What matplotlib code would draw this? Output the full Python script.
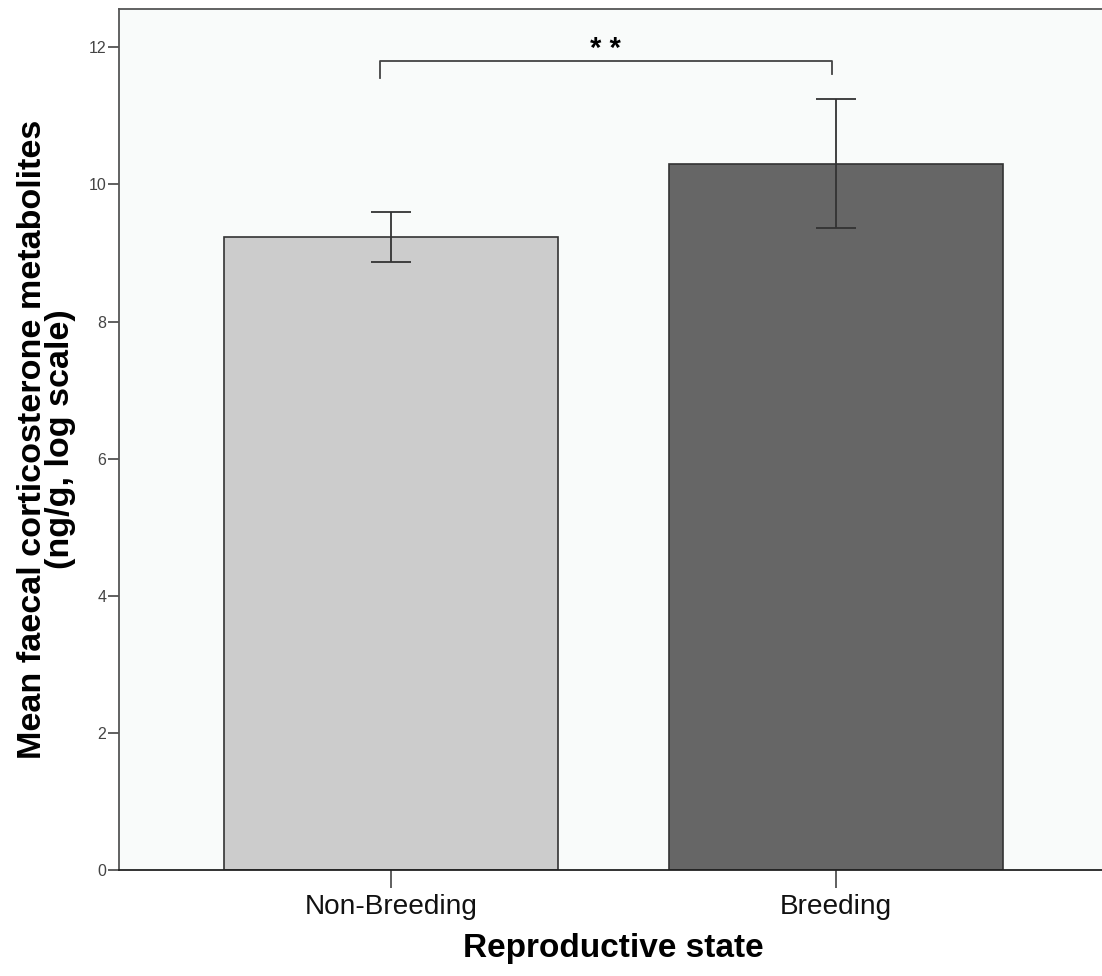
import matplotlib
matplotlib.use("Agg")
import matplotlib.pyplot as plt

categories = ["Non-Breeding", "Breeding"]
means = [9.24, 10.30]
err_low = [8.87, 9.37]
err_high = [9.60, 11.24]
bar_colors = ["#cccccc", "#666666"]
yticks = [0, 2, 4, 6, 8, 10, 12]
sig_label = "* *"

plt.rcParams['font.family'] = ['Liberation Sans', 'DejaVu Sans']

fig = plt.figure(figsize=(11.02, 9.76), dpi=100)
ax = fig.add_axes([119/1102, 1-870/976, (1108-119)/1102, (870-9)/976])
ax.set_facecolor("#f9fbfa")

x = list(range(len(categories)))
ax.bar(x, means, width=0.75, color=bar_colors, edgecolor="#333333", linewidth=1.2, zorder=2)
yerr = [[m - lo for m, lo in zip(means, err_low)], [hi - m for m, hi in zip(means, err_high)]]
ax.errorbar(x, means, yerr=yerr, fmt='none', ecolor="#333333", elinewidth=1.3,
            capsize=14.4, capthick=1.3, zorder=3)

# significance bracket
bx0, bx1 = -0.025, 0.99
ytop = 11.80
ax.plot([bx0, bx0, bx1, bx1], [11.56, ytop, ytop, 11.61], color="#444444", lw=1.3, zorder=3)
ax.text((bx0 + bx1) / 2, 11.98, sig_label, ha='center', va='center', fontsize=21,
        fontweight='bold', color='black')

ax.set_xlim(-0.611, 1.611)
ax.set_ylim(0, 12.56)
ax.set_xticks(x)
ax.set_xticklabels(categories, fontsize=20.2, color='#111111')
ax.set_yticks(yticks)
ax.set_yticklabels([str(t) for t in yticks], fontsize=11.5, color='#444444')

ax.tick_params(axis='y', direction='out', length=8, width=1.2, color='#444444', pad=1)
ax.tick_params(axis='x', direction='out', length=13, width=1.2, color='#444444', pad=4)

for s in ['left', 'top']:
    ax.spines[s].set_color('#555555')
    ax.spines[s].set_linewidth(1.3)
ax.spines['bottom'].set_color('#222222')
ax.spines['bottom'].set_linewidth(1.3)
ax.spines['right'].set_visible(False)

ax.set_xlabel("Reproductive state", fontsize=24, fontweight='bold', labelpad=10)
ax.set_ylabel("Mean faecal corticosterone metabolites\n(ng/g, log scale)", fontsize=24.6,
              fontweight='bold', linespacing=0.9, labelpad=9)

fig.savefig("out.png", dpi=100, facecolor='white')
